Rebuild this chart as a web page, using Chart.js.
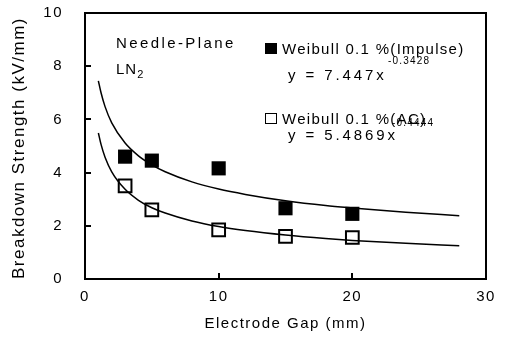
<!DOCTYPE html>
<html>
<head>
<meta charset="utf-8">
<script src="https://cdn.jsdelivr.net/npm/chart.js@4"></script>
<style>
  html, body { margin: 0; padding: 0; background: #fff; }
  #wrap { position: relative; width: 506px; height: 341px; font-family: 'Liberation Sans', Arial, sans-serif; color: #000; }
  #wrap canvas { position: absolute; left: 0; top: 0; }
  .note { position: absolute; font-size: 15px; line-height: 15px; white-space: nowrap; }
  .sup { position: absolute; font-size: 10px; line-height: 10px; white-space: nowrap; letter-spacing: 1.2px; }
  .box { position: absolute; width: 12px; height: 11px; box-sizing: border-box; }
  .frame { position: absolute; border: 2px solid #000; box-sizing: border-box; }
  .tick { position: absolute; background: #000; }
</style>
</head>
<body>
<div id="wrap">
  <canvas id="myChart" width="506" height="341"></canvas>

  <div class="note" style="left:116px; top:35px; letter-spacing:2.4px">Needle-Plane</div>
  <div class="note" style="left:116px; top:61px; letter-spacing:1px">LN<sub style="font-size:11px; line-height:0">2</sub></div>

  <div class="box" style="left:265px; top:43px; background:#000"></div>
  <div class="note" style="left:282px; top:41px; letter-spacing:1.3px">Weibull 0.1 %(Impulse)</div>
  <div class="note" style="left:288px; top:67px; letter-spacing:2.9px">y = 7.447x</div>
  <div class="sup" style="left:388px; top:56px">-0.3428</div>

  <div class="box" style="left:265px; top:113px; border:1.5px solid #000"></div>
  <div class="note" style="left:282px; top:111px; letter-spacing:1.3px">Weibull 0.1 %(AC)</div>
  <div class="note" style="left:288px; top:127px; letter-spacing:2.9px">y = 5.4869x</div>
  <div class="sup" style="left:392px; top:118px">-0.4444</div>
</div>

<script>
// measured points (electrode gap in mm, strength in kV/mm)
const gaps = [3, 5, 10, 15, 20]
const impulse = [4.6, 4.45, 4.16, 2.66, 2.45]
const ac = [3.5, 2.6, 1.85, 1.6, 1.56]

// power-law fit curves
const fitGaps = [1, 1.2, 1.5, 2, 3, 4, 5, 6, 8, 10, 12, 15, 18, 20, 24, 28]
const impulseFit = [7.45, 7.0, 6.48, 5.87, 5.11, 4.63, 4.29, 4.03, 3.65, 3.38, 3.18, 2.94, 2.76, 2.67, 2.51, 2.38]
const acFit = [5.49, 5.06, 4.58, 4.03, 3.37, 2.96, 2.68, 2.48, 2.18, 1.97, 1.82, 1.65, 1.52, 1.45, 1.34, 1.25]

const xTicks = [0, 10, 20, 30]
const yTicks = [0, 2, 4, 6, 8, 10]

const toXY = (xs, ys) => xs.map((x, i) => ({ x: x, y: ys[i] }))

// wide letter spacing like the original; y axis (z: 1) is drawn after the datasets
const spacing = {
  id: 'spacing',
  beforeDraw (chart) { chart.ctx.letterSpacing = '1.5px' },
  afterDatasetsDraw (chart) { chart.ctx.letterSpacing = '3.4px' },
}

const axisFont = { family: "'Liberation Sans', Arial, sans-serif", size: 15 }

const chart = new Chart(document.getElementById('myChart'), {
  type: 'scatter',
  data: {
    datasets: [
      {
        label: 'Weibull 0.1 %(Impulse)',
        data: toXY(gaps, impulse),
        pointStyle: 'rect',
        pointRadius: 10,
        backgroundColor: '#000',
        borderColor: '#000',
        borderWidth: 0,
      },
      {
        label: 'Weibull 0.1 %(AC)',
        data: toXY(gaps, ac),
        pointStyle: 'rect',
        pointRadius: 9,
        backgroundColor: 'rgba(0,0,0,0)',
        borderColor: '#000',
        borderWidth: 2,
      },
      {
        label: 'y = 7.447x^-0.3428',
        data: toXY(fitGaps, impulseFit),
        showLine: true,
        pointRadius: 0,
        borderColor: '#000',
        borderWidth: 1.5,
        cubicInterpolationMode: 'monotone',
      },
      {
        label: 'y = 5.4869x^-0.4444',
        data: toXY(fitGaps, acFit),
        showLine: true,
        pointRadius: 0,
        borderColor: '#000',
        borderWidth: 1.5,
        cubicInterpolationMode: 'monotone',
      },
    ]
  },
  options: {
    responsive: false,
    animation: false,
    devicePixelRatio: 1,
    layout: { autoPadding: false, padding: { top: 13, right: 20, left: 0, bottom: 0 } },
    plugins: { legend: { display: false }, tooltip: { enabled: false } },
    scales: {
      x: {
        type: 'linear',
        min: xTicks[0],
        max: xTicks[xTicks.length - 1],
        afterBuildTicks: scale => { scale.ticks = xTicks.map(v => ({ value: v })) },
        afterFit: scale => { scale.height = 62; scale.paddingLeft = 0; scale.paddingRight = 0 },
        ticks: { color: '#000', font: axisFont, padding: 9 },
        grid: { display: false, drawTicks: false },
        border: { display: false },
        title: { display: true, text: 'Electrode Gap (mm)', color: '#000', font: axisFont, padding: { top: 0, bottom: 8 } },
      },
      y: {
        z: 1,
        min: yTicks[0],
        max: yTicks[yTicks.length - 1],
        afterBuildTicks: scale => { scale.ticks = yTicks.map(v => ({ value: v })) },
        afterFit: scale => { scale.width = 85; scale.paddingTop = 0; scale.paddingBottom = 0 },
        ticks: { color: '#000', font: axisFont, padding: 22 },
        grid: { display: false, drawTicks: false },
        border: { display: false },
        title: { display: true, text: 'Breakdown Strength (kV/mm)', align: 'start', color: '#000', font: { family: axisFont.family, size: 17 }, padding: { top: 9, bottom: 0 } },
      },
    }
  },
  plugins: [spacing]
})

// plot box and inward tick marks, placed from the chart's own scales
const wrap = document.getElementById('wrap')
const addDiv = (cls, l, t, w, h) => {
  const d = document.createElement('div')
  d.className = cls
  d.style.cssText = `left:${l}px;top:${t}px;width:${w}px;height:${h}px`
  wrap.appendChild(d)
}
const a = chart.chartArea
addDiv('frame', a.left - 1, a.top - 1, a.right - a.left + 2, a.bottom - a.top + 2)
xTicks.slice(1, -1).forEach(v => {
  const px = Math.round(chart.scales.x.getPixelForValue(v))
  addDiv('tick', px - 1, a.bottom - 6, 1.5, 6)
})
yTicks.slice(1, -1).forEach(v => {
  const py = Math.round(chart.scales.y.getPixelForValue(v))
  addDiv('tick', a.left, py - 1, 6, 1.5)
})
</script>
</body>
</html>
